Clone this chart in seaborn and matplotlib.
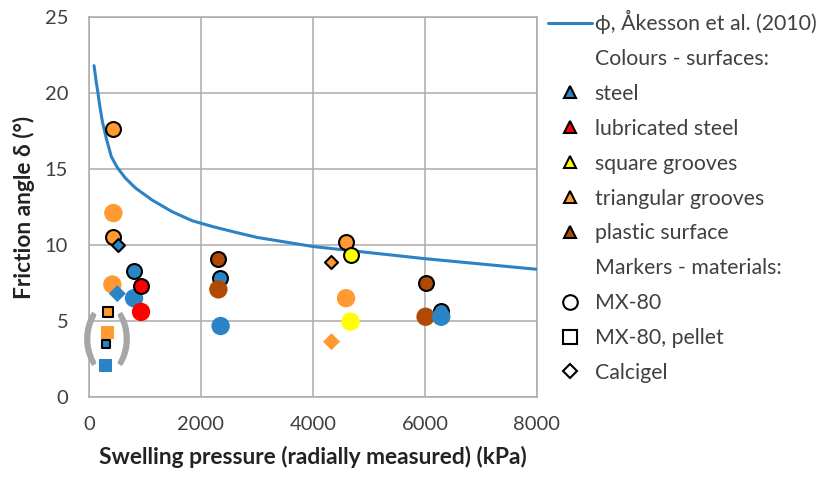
import numpy as np
import pandas as pd
import matplotlib
matplotlib.use("Agg")
import matplotlib.pyplot as plt
import seaborn as sns
from matplotlib.lines import Line2D

# ---------------- data ----------------
curve_pressure = [90, 130, 160, 190, 240, 310, 400, 505, 650, 830, 1130, 1480,
                  1840, 2220, 2600, 3000, 3500, 4000, 4500, 5000, 6000, 7000, 8000]
curve_angle = [21.8, 20.7, 20.0, 19.2, 18.1, 17.0, 15.8, 15.1, 14.4, 13.75, 12.95, 12.2,
               11.6, 11.2, 10.85, 10.5, 10.2, 9.9, 9.7, 9.5, 9.1, 8.75, 8.4]

pressure = [435, 435, 4590, 4670, 804, 2340, 6290, 2310, 6010,
            2310, 6010, 435, 417, 4590, 4670, 804, 2350, 6290, 929, 929,
            345, 333, 298, 298,
            524, 506, 4330, 4330]
angle = [17.6, 10.5, 10.2, 9.34, 8.3, 7.8, 5.66, 9.06, 7.52,
         7.08, 5.28, 12.1, 7.4, 6.5, 4.96, 6.5, 4.67, 5.28, 5.6, 7.3,
         5.6, 4.25, 3.5, 2.06,
         10.0, 6.8, 8.9, 3.64]
surface = ["triangular grooves", "triangular grooves", "triangular grooves",
           "square grooves", "steel", "steel", "steel",
           "plastic surface", "plastic surface",
           "plastic surface", "plastic surface",
           "triangular grooves", "triangular grooves", "triangular grooves",
           "square grooves", "steel", "steel", "steel",
           "lubricated steel", "lubricated steel",
           "triangular grooves", "triangular grooves", "steel", "steel",
           "steel", "steel", "triangular grooves", "triangular grooves"]
material = ["MX-80"] * 20 + ["MX-80, pellet"] * 4 + ["Calcigel"] * 4
edged = [True, True, True, True, True, True, True, True, True,
         False, False, False, False, False, False, False, False, False, False, True,
         True, False, True, False,
         True, False, True, False]

surface_names = ["steel", "lubricated steel", "square grooves",
                 "triangular grooves", "plastic surface"]
surface_colors = ["#2A84C6", "#FF0000", "#FFFF00", "#FF9A33", "#AE4A04"]
material_names = ["MX-80", "MX-80, pellet", "Calcigel"]
material_markers = ["o", "s", "D"]

curve_label = "\u03d5, \u00c5kesson et al. (2010)"
xlabel = "Swelling pressure (radially measured) (kPa)"
ylabel = "Friction angle \u03b4 (\u00b0)"

# ---------------- style ----------------
sns.set_style("white")
plt.rcParams["font.family"] = ["Lato", "DejaVu Sans"]

GRID = "#ABABAB"
TXT = "#404040"

fig = plt.figure(figsize=(8.27, 4.79), dpi=100)
ax = fig.add_axes([89 / 827, 1 - 397 / 479, (537 - 89) / 827, (397 - 17) / 479])

df = pd.DataFrame({"pressure": pressure, "angle": angle, "surface": surface,
                   "material": material, "edged": edged})
cmap = dict(zip(surface_names, surface_colors))
mmap = dict(zip(material_names, material_markers))

size_map = {("MX-80", False): 175, ("MX-80", True): 115,
            ("MX-80, pellet", False): 92, ("MX-80, pellet", True): 58,
            ("Calcigel", False): 75, ("Calcigel", True): 44}

# curve
sns.lineplot(x=curve_pressure, y=curve_angle, ax=ax, color="#2B83C6",
             linewidth=2.2, zorder=3, legend=False)

# points, drawn one after another in list order
z = 4
for i, row in df.iterrows():
    s = size_map[(row["material"], row["edged"])]
    if row["material"] == "MX-80, pellet" and row["edged"] and row["surface"] == "steel":
        s = 33
    sns.scatterplot(x=[row["pressure"]], y=[row["angle"]], ax=ax,
                    color=cmap[row["surface"]], marker=mmap[row["material"]],
                    s=s, edgecolor="black" if row["edged"] else "none",
                    linewidth=1.5 if row["edged"] else 0, zorder=z, legend=False)
    z += 0.01

# brackets around pellet values
ax.text(18, 3.75, "(", fontsize=42, fontweight="bold", color="#A6A6A6",
        ha="center", va="center", zorder=3.5)
ax.text(607, 3.75, ")", fontsize=42, fontweight="bold", color="#A6A6A6",
        ha="center", va="center", zorder=3.5)

ax.set_xlim(0, 8000)
ax.set_ylim(0, 25)
ax.set_xticks(np.arange(0, 8001, 2000))
ax.set_yticks(np.arange(0, 26, 5))
ax.grid(True, color=GRID, linewidth=1.1)
for sp in ax.spines.values():
    sp.set_color(GRID)
    sp.set_linewidth(1.1)
ax.tick_params(axis="both", which="both", direction="out", length=6,
               width=1.1, color=GRID, labelsize=14.5, labelcolor=TXT)
ax.tick_params(axis="x", pad=8)
ax.tick_params(axis="y", pad=9)
ax.set_xlabel(xlabel, fontsize=16.4, fontweight="bold", color="#222222", labelpad=9)
ax.set_ylabel(ylabel, fontsize=16.4, fontweight="bold", color="#222222", labelpad=7)

# ---------------- legend ----------------
blank = Line2D([], [], linestyle="none", marker=None)
handles = [Line2D([], [], color="#2B83C6", linewidth=2.2)]
labels = [curve_label]
handles.append(blank)
labels.append("Colours - surfaces:")
for n, c in zip(surface_names, surface_colors):
    handles.append(Line2D([], [], linestyle="none", marker="^", markersize=9,
                          markerfacecolor=c, markeredgecolor="black",
                          markeredgewidth=1.5))
    labels.append(n)
handles.append(blank)
labels.append("Markers - materials:")
leg_sizes = [10.5, 10, 7]
for n, m, ms in zip(material_names, material_markers, leg_sizes):
    handles.append(Line2D([], [], linestyle="none", marker=m, markersize=ms,
                          markerfacecolor="white", markeredgecolor="black",
                          markeredgewidth=1.5))
    labels.append(n)

leg = fig.legend(handles, labels, loc="upper left",
                 bbox_to_anchor=(548 / 827, 1 - 10 / 479),
                 bbox_transform=fig.transFigure, frameon=False,
                 fontsize=15.3, labelcolor=TXT, handlelength=2.07,
                 handletextpad=0.12, labelspacing=0.70, borderpad=0,
                 borderaxespad=0)

fig.savefig("out.png", dpi=100)
